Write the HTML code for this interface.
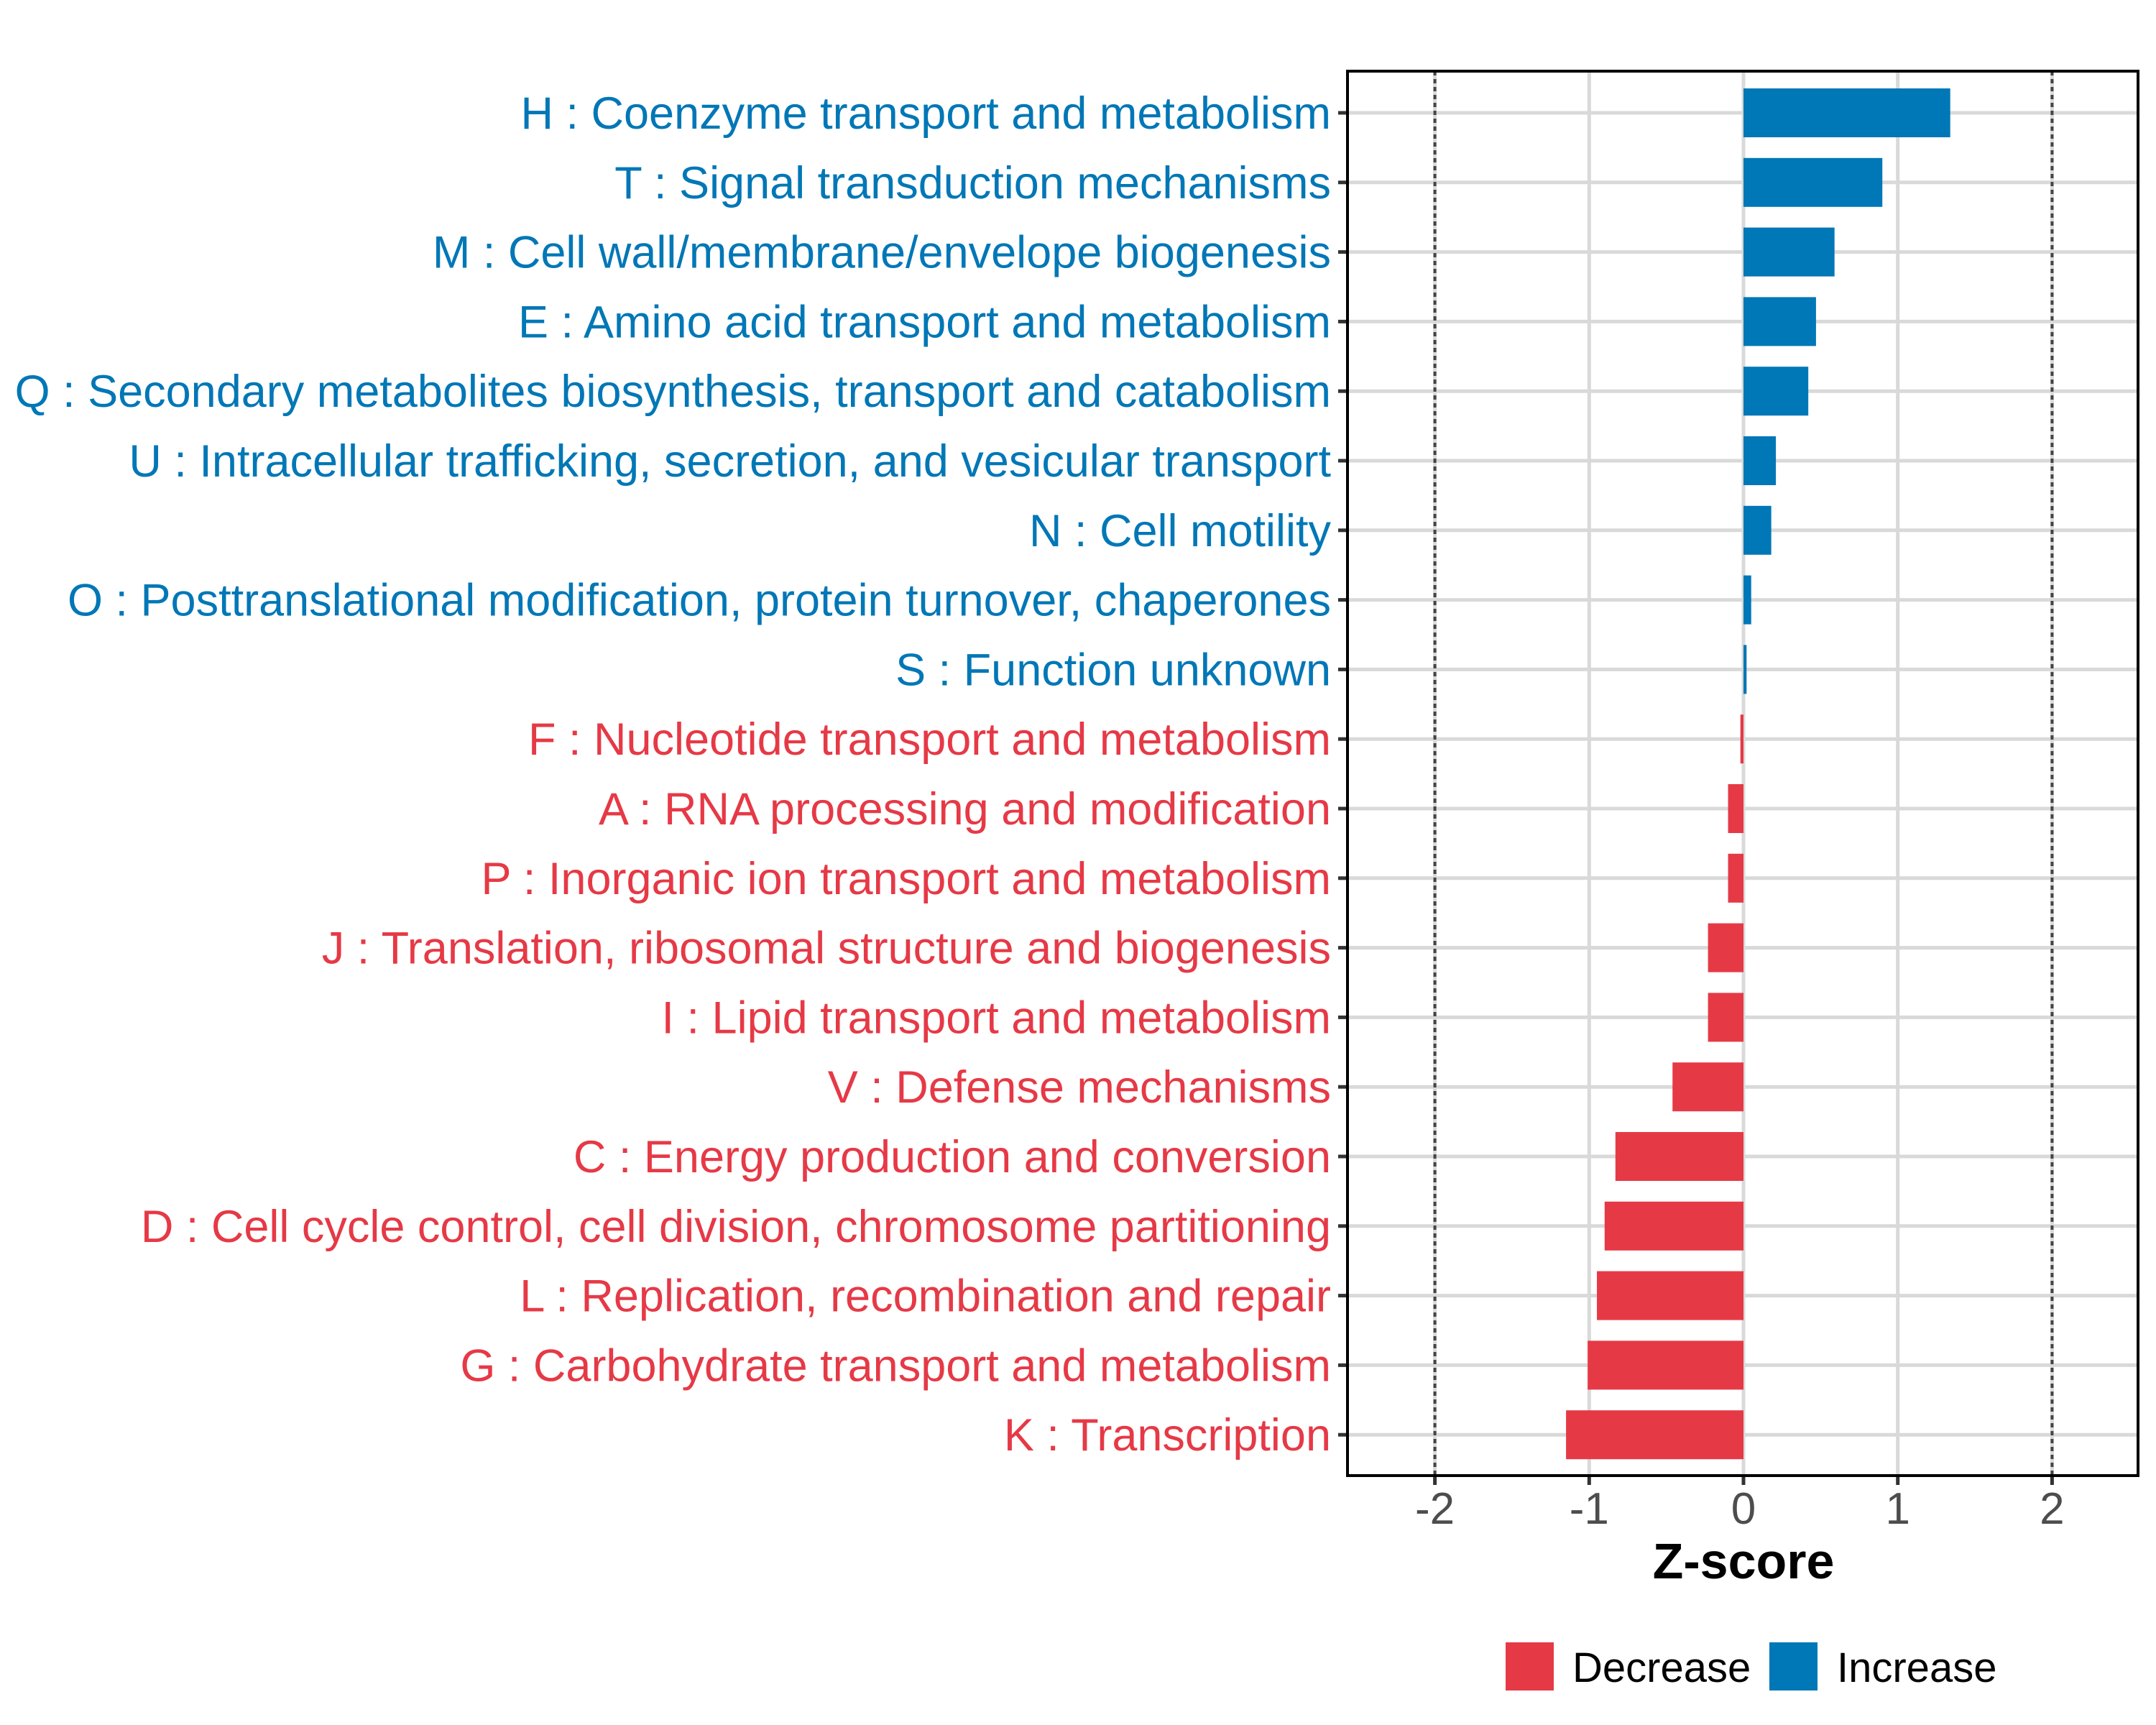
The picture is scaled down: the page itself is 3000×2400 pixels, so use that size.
<!DOCTYPE html>
<html><head><meta charset="utf-8"><style>
html,body{margin:0;padding:0;background:#fff;}
svg{display:block;font-family:"Liberation Sans",Arial,sans-serif;}
</style></head><body>
<svg id="chart" width="3000" height="2400" viewBox="0 0 3000 2400" xmlns="http://www.w3.org/2000/svg">
<rect width="3000" height="2400" fill="#fff"/>
<g id="grid"></g><g id="bars"></g><g id="labels"></g><g id="axis"></g>
<rect x="1875" y="99" width="1100" height="1954" fill="none" stroke="#000" stroke-width="4"/>
<text x="2426" y="2196" text-anchor="middle" font-size="70" font-weight="bold" fill="#000">Z-score</text>
<g>
<rect x="2095" y="2285" width="67" height="67" fill="#E63946"/>
<text x="2188" y="2340" font-size="58" fill="#000">Decrease</text>
<rect x="2462" y="2285" width="67" height="67" fill="#0077B6"/>
<text x="2556" y="2340" font-size="58" fill="#000">Increase</text>
</g>
</svg>
<script>
const categories = ["H : Coenzyme transport and metabolism","T : Signal transduction mechanisms","M : Cell wall/membrane/envelope biogenesis","E : Amino acid transport and metabolism","Q : Secondary metabolites biosynthesis, transport and catabolism","U : Intracellular trafficking, secretion, and vesicular transport","N : Cell motility","O : Posttranslational modification, protein turnover, chaperones","S : Function unknown","F : Nucleotide transport and metabolism","A : RNA processing and modification","P : Inorganic ion transport and metabolism","J : Translation, ribosomal structure and biogenesis","I : Lipid transport and metabolism","V : Defense mechanisms","C : Energy production and conversion","D : Cell cycle control, cell division, chromosome partitioning","L : Replication, recombination and repair","G : Carbohydrate transport and metabolism","K : Transcription"];
const zscores = [1.34,0.90,0.59,0.47,0.42,0.21,0.18,0.05,0.02,-0.02,-0.10,-0.10,-0.23,-0.23,-0.46,-0.83,-0.90,-0.95,-1.01,-1.15];
const xTicks = [-2,-1,0,1,2];
const xTickLabels = ["-2","-1","0","1","2"];
const dottedLines = [-2,2];

const NS="http://www.w3.org/2000/svg";
const X0=2426, UNIT=214.7, ROW0=157, ROWSTEP=96.8, BARH=68;
const xs=v=>X0+v*UNIT;
const ys=i=>ROW0+i*ROWSTEP;
function mk(tag,attrs,parent){const e=document.createElementNS(NS,tag);for(const k in attrs)e.setAttribute(k,attrs[k]);parent.appendChild(e);return e;}
const grid=document.getElementById('grid'),bars=document.getElementById('bars'),labels=document.getElementById('labels'),axis=document.getElementById('axis');
xTicks.forEach((t,i)=>{
  const g=mk('line',{x1:xs(t),x2:xs(t),y1:99,y2:2053,stroke:'#d9d9d9','stroke-width':5},grid);
  
  
  const tk=mk('line',{x1:xs(t),x2:xs(t),y1:2053,y2:2066,stroke:'#333','stroke-width':5},axis);
  
  
  const tl=mk('text',{x:xs(t),y:2120,'text-anchor':'middle','font-size':62,fill:'#4d4d4d'},axis);
  tl.textContent=xTickLabels[i];
  
  
});
categories.forEach((c,i)=>{
  const y=ys(i);
  const g=mk('line',{x1:1875,x2:2975,y1:y,y2:y,stroke:'#d9d9d9','stroke-width':5},grid);
  
  
  const v=zscores[i];
  const col=v>=0?'#0077B6':'#E63946';
  const b=mk('rect',{x:Math.min(xs(0),xs(v)),y:y-BARH/2,width:Math.abs(xs(v)-xs(0)),height:BARH,fill:col},bars);
  
  
  const tk=mk('line',{x1:1862,x2:1875,y1:y,y2:y,stroke:'#333','stroke-width':5},axis);
  
  
  const t=mk('text',{x:1852,y:y+22,'text-anchor':'end','font-size':63,fill:col},labels);
  t.textContent=c;
  
  
});
dottedLines.forEach(d=>{
  const l=mk('line',{x1:xs(d),x2:xs(d),y1:99,y2:2053,stroke:'#444','stroke-width':4,'stroke-dasharray':'6 5'},bars);
  
  
});
</script>
</body></html>
